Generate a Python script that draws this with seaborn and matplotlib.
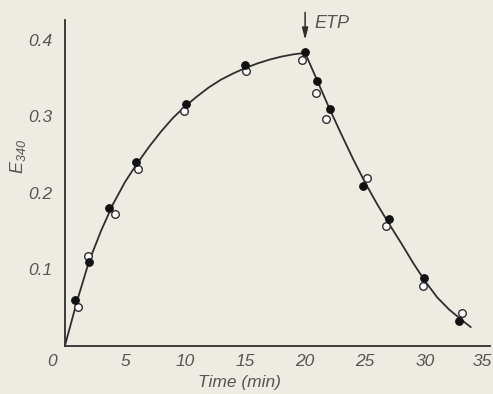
import matplotlib
matplotlib.use("Agg")
import matplotlib.pyplot as plt
import matplotlib.transforms as mtransforms
import seaborn as sns
import pandas as pd

# Measured points (filled circles)
filled_x = [0.8, 2.0, 3.7, 5.9, 10.1, 15.0, 20.0, 21.0, 22.1, 24.8, 27.0, 29.9, 32.8]
filled_y = [0.059, 0.109, 0.180, 0.240, 0.316, 0.367, 0.384, 0.346, 0.309, 0.209, 0.166, 0.088, 0.032]
# Measured points (open circles)
open_x = [1.1, 1.9, 4.15, 6.1, 9.95, 15.07, 19.76, 20.87, 21.78, 25.15, 26.7, 29.85, 33.1]
open_y = [0.050, 0.117, 0.172, 0.231, 0.307, 0.359, 0.373, 0.331, 0.296, 0.219, 0.157, 0.078, 0.042]
# Fitted curve
curve_x = [0, 1, 2, 3, 4, 5, 6, 7, 8, 9, 10, 11, 12, 13, 14, 15, 16, 17, 18, 19, 20,
           21, 22, 23, 24, 25, 26, 27, 28, 29, 30, 31, 32, 33, 33.8]
curve_y = [0.0, 0.058, 0.110, 0.150, 0.185, 0.214, 0.238, 0.260, 0.280, 0.298, 0.313,
           0.326, 0.338, 0.348, 0.356, 0.363, 0.369, 0.374, 0.378, 0.381, 0.383,
           0.347, 0.311, 0.277, 0.244, 0.213, 0.185, 0.159, 0.134, 0.108, 0.084,
           0.063, 0.047, 0.034, 0.024]
x_ticks = [5, 10, 15, 20, 25, 30, 35]
y_ticks = [0.1, 0.2, 0.3, 0.4]

sns.set_style("white")
plt.rcParams['font.family'] = ['Liberation Sans', 'DejaVu Sans']
plt.rcParams['mathtext.fontset'] = 'custom'
plt.rcParams['mathtext.it'] = 'Liberation Sans:italic'
plt.rcParams['mathtext.rm'] = 'Liberation Sans:italic'

bg = "#eeebe3"
ink = "#2e2e2e"
txt = "#555555"

fig = plt.figure(figsize=(4.93, 3.94), dpi=100, facecolor=bg)
ax = fig.add_axes([65 / 493, (394 - 345.5) / 394, 425 / 493, 325.5 / 394])
ax.set_facecolor(bg)

curve = pd.DataFrame({"x": curve_x, "y": curve_y})
sns.lineplot(data=curve, x="x", y="y", ax=ax, color=ink, lw=1.3, sort=False)

df_f = pd.DataFrame({"x": filled_x, "y": filled_y})
df_o = pd.DataFrame({"x": open_x, "y": open_y})
sns.scatterplot(data=df_o, x="x", y="y", ax=ax, s=30, color="white",
                edgecolor=ink, linewidth=1.0, zorder=3)
sns.scatterplot(data=df_f, x="x", y="y", ax=ax, s=30, color="#111111",
                edgecolor="#111111", linewidth=0.8, zorder=4)

ax.set_xlim(0, 35.4)
ax.set_ylim(0, 0.426)
ax.set_xticks(x_ticks)
ax.set_xticklabels([str(t) for t in x_ticks])
ax.set_yticks(y_ticks)
ax.set_yticklabels([f"{t:.1f}" for t in y_ticks])

for s in ["top", "right"]:
    ax.spines[s].set_visible(False)
for s in ["left", "bottom"]:
    ax.spines[s].set_color(ink)
    ax.spines[s].set_linewidth(1.3)

ax.tick_params(axis="both", direction="in", length=7, width=1.1, color=ink,
               labelsize=12.5, labelcolor=txt)
ax.tick_params(axis="x", pad=6)
ax.tick_params(axis="y", pad=9)
for lab in ax.get_xticklabels() + ax.get_yticklabels():
    lab.set_fontstyle("italic")
# nudge the last x label so it stays inside the figure
last = ax.get_xticklabels()[-1]
last.set_transform(last.get_transform() +
                   mtransforms.ScaledTranslation(-3 / 100, 0, fig.dpi_scale_trans))

ax.text(-1.1, -0.05, "0", transform=ax.get_xaxis_transform(), ha="center",
        va="center", fontsize=12.5, fontstyle="italic", color=txt)

ax.set_xlabel("Time (min)", fontsize=12.5, fontstyle="italic", color=txt,
              va="center", ha="center")
ax.xaxis.set_label_coords(0.41, -0.115)
ax.set_ylabel(r"$E_{340}$", fontsize=13, color=txt, va="center", ha="center")
ax.yaxis.set_label_coords(-0.11, 0.58)

ax.annotate("", xy=(20.0, 0.400), xytext=(20.0, 0.436),
            arrowprops=dict(arrowstyle="-|>,head_length=0.7,head_width=0.18",
                            color=ink, lw=1.1, shrinkA=0, shrinkB=0),
            annotation_clip=False)
ax.text(20.8, 0.422, "ETP", fontsize=13, fontstyle="italic", color=txt,
        ha="left", va="center")

fig.savefig("out.png", dpi=100, facecolor=bg)
